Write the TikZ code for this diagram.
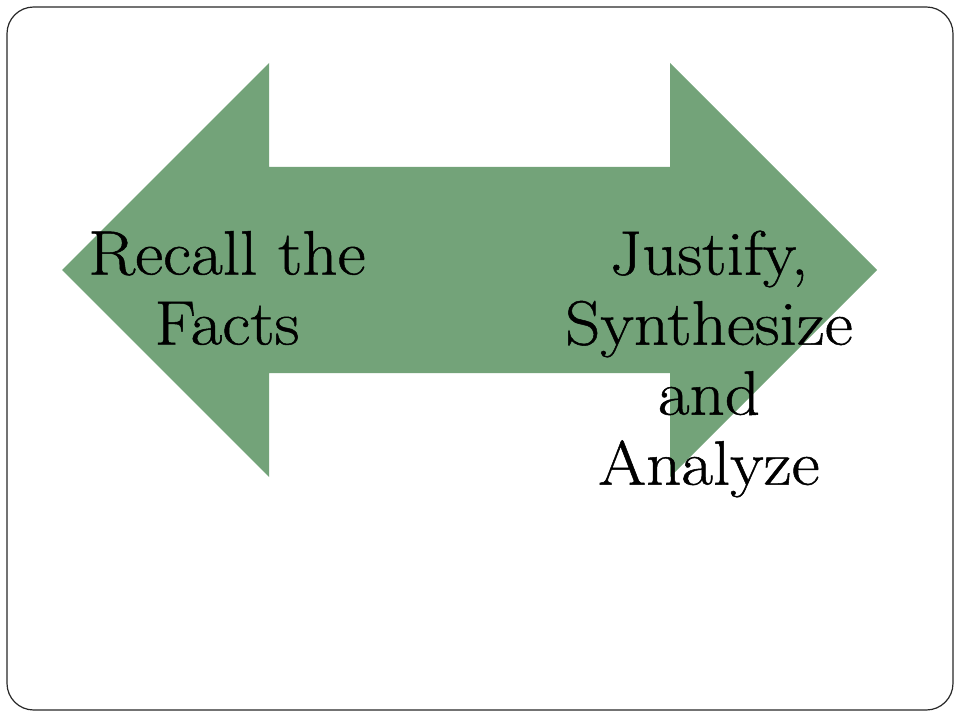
\documentclass[tikz,border=0pt]{standalone}
\usepackage{fontspec}
\newfontfamily\labelfont{Latin Modern Roman}[FakeStretch=1.1,FakeBold=0.8]
\definecolor{arrowgreen}{RGB}{115,163,121}
\definecolor{framegray}{RGB}{40,40,40}
\tikzset{
  frame/.style={draw=framegray, line width=0.9pt, rounded corners=20pt},
  bigarrow/.style={fill=arrowgreen, draw=none},
  label/.style={align=center, inner sep=0pt, font=\labelfont\fontsize{47}{52.5}\selectfont}
}
\begin{document}
\begin{tikzpicture}[x=0.75pt,y=-0.75pt]
\useasboundingbox (0,0) rectangle (960,720);
\draw[frame] (7,7) rectangle (953,710);
\fill[bigarrow] (62,270) -- (269,63) -- (269,167) -- (670,167) -- (670,63)
  -- (877,270) -- (670,477) -- (670,373) -- (269,373) -- (269,477) -- cycle;
\node[label] (recall) at (227,288) {Recall the\\Facts};
\node[label] (justify) at (709,364) {Justify,\\Synthesize\\and\\Analyze};
\end{tikzpicture}
\end{document}
